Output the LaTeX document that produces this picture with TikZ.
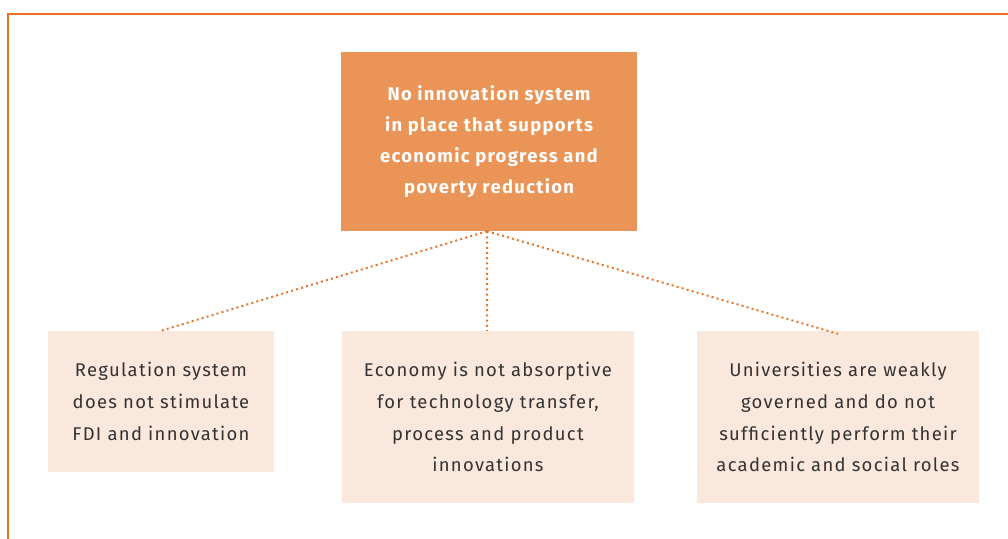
\documentclass[tikz,border=0pt]{standalone}
\usepackage{fontspec}
\setmainfont{Fira Sans}[LetterSpace=7]
\definecolor{frameor}{HTML}{EB7125}
\definecolor{topfill}{HTML}{EA9557}
\definecolor{lightfill}{HTML}{FAE8DD}
\definecolor{dotor}{HTML}{E8762A}
\definecolor{txtgray}{HTML}{333333}
\begin{document}
\begin{tikzpicture}[x=1bp,y=-1bp,
  topbox/.style={fill=topfill,inner sep=0pt,text=white,align=center,
    font=\fontsize{18.5}{31}\selectfont\bfseries},
  lowbox/.style={fill=lightfill,inner sep=0pt,text=txtgray,align=center,
    font=\fontsize{18.5}{32}\selectfont},
  conn/.style={dotor,line width=2bp,dash pattern=on 2bp off 3.2bp}]
\useasboundingbox (0,0) rectangle (1008,539);
\draw[frameor,line width=1.6bp] (8,539) -- (8,14) -- (1008,14);
\node[topbox,minimum width=296bp,minimum height=179bp] (top) at (489,141.5)
  {No innovation system\\in place that supports\\economic progress and\\poverty reduction};
\node[lowbox,minimum width=226bp,minimum height=141bp] (b1) at (161,401.5)
  {Regulation system\\does not stimulate\\FDI and innovation};
\node[lowbox,minimum width=292bp,minimum height=172bp] (b2) at (488,417)
  {Economy is not absorptive\\for technology transfer,\\process and product\\innovations};
\node[lowbox,minimum width=282bp,minimum height=172bp] (b3) at (838,417)
  {Universities are weakly\\governed and do not\\sufficiently perform their\\academic and social roles};
\coordinate (apex) at ([xshift=-2bp]top.south);
\draw[conn] (apex) -- (b1.north);
\draw[conn] (apex) -- ([xshift=-1bp]b2.north);
\draw[conn] (apex) -- ([yshift=-3bp]b3.north);
\end{tikzpicture}
\end{document}
